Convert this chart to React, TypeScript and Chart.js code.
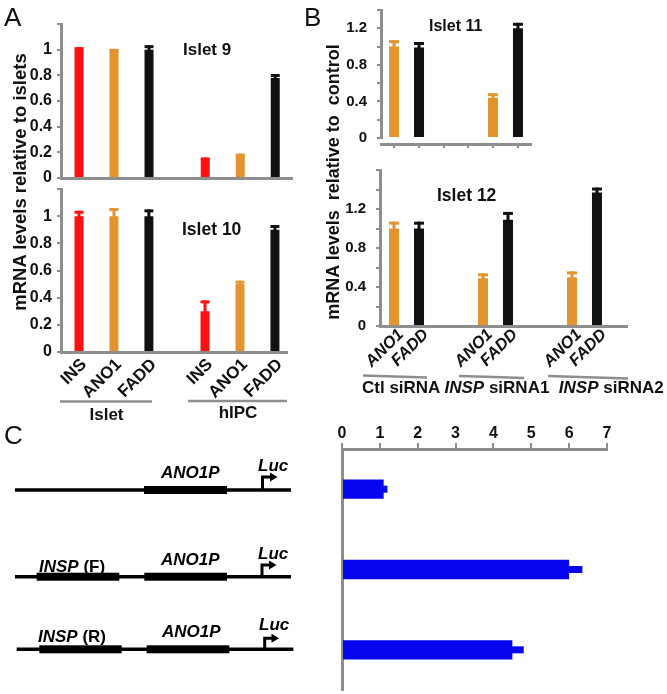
import React, { useEffect, useRef } from 'react';
import { Chart, registerables } from 'chart.js';

Chart.register(...registerables);

const FONT = '"Liberation Sans", Arial, Helvetica, sans-serif';
const AXIS_GRAY = '#8e8e8e';
const TEXT = '#111111';
const RED = '#ff1010';
const ORANGE = '#e2952f';
const BLACK = '#111111';
const BLUE = '#0505f0';

// ---------- Panel A data ----------
const groupsA = ['Islet', 'hIPC'];
const genesA = ['INS', 'ANO1', 'FADD'];
const islet9INS = [1.0, 0.15];
const islet9ANO1 = [1.0, 0.18];
const islet9FADD = [1.0, 0.78];
const islet9INSErr = [0.02, 0.01];
const islet9ANO1Err = [0.006, 0.01];
const islet9FADDErr = [0.035, 0.03];
const islet10INS = [1.0, 0.3];
const islet10ANO1 = [1.0, 0.5];
const islet10FADD = [1.0, 0.9];
const islet10INSErr = [0.04, 0.08];
const islet10ANO1Err = [0.06, 0.025];
const islet10FADDErr = [0.05, 0.035];
const yTicksA = [0, 0.2, 0.4, 0.6, 0.8, 1];

// ---------- Panel B data ----------
const groupsB = ['Ctl siRNA', 'INSP siRNA1', 'INSP siRNA2'];
const genesB = ['ANO1', 'FADD'];
const islet11ANO1 = [1.0, 0.44];
const islet11FADD = [0.99, 1.2];
const islet11ANO1Err = [0.07, 0.05];
const islet11FADDErr = [0.06, 0.06];
const islet12ANO1 = [1.0, 0.49, 0.5];
const islet12FADD = [1.0, 1.09, 1.37];
const islet12ANO1Err = [0.07, 0.05, 0.06];
const islet12FADDErr = [0.07, 0.08, 0.05];
const yTicksB = [0, 0.4, 0.8, 1.2];

// ---------- Panel C data ----------
const constructsC = ['ANO1P-Luc', 'INSP(F)-ANO1P-Luc', 'INSP(R)-ANO1P-Luc'];
const lucActivity = [1.1, 6.0, 4.5];
const lucErr = [0.1, 0.35, 0.3];
const xTicksC = [0, 1, 2, 3, 4, 5, 6, 7];

// ---------- plugins ----------
const errorBarPlugin = {
  id: 'errorBars',
  afterDatasetsDraw(chart: any) {
    const ctx = chart.ctx;
    const horizontal = chart.options.indexAxis === 'y';
    chart.data.datasets.forEach((ds: any, di: number) => {
      const errs: number[] | undefined = ds.errors;
      if (!errs) return;
      const meta = chart.getDatasetMeta(di);
      const vScale = chart.scales[horizontal ? meta.xAxisID : meta.yAxisID];
      ctx.save();
      ctx.fillStyle = ds.backgroundColor;
      meta.data.forEach((el: any, i: number) => {
        const parsed = meta.controller.getParsed(i);
        const v = horizontal ? parsed.x : parsed.y;
        const end = vScale.getPixelForValue(v + errs[i]);
        if (horizontal) {
          const t = 7;
          ctx.fillRect(el.x - 1, el.y - t / 2, end - el.x + 1, t);
        } else {
          const stem = 3;
          const capH = 3;
          const capW = el.width;
          ctx.fillRect(el.x - stem / 2, end, stem, el.y - end + 1);
          ctx.fillRect(el.x - capW / 2, end, capW, capH);
        }
      });
      ctx.restore();
    });
  },
};

const barLabelPlugin = {
  id: 'barLabels',
  afterDraw(chart: any, _args: any, opts: any) {
    if (!opts || !opts.show) return;
    const { ctx, chartArea } = chart;
    ctx.save();
    ctx.font = `${opts.italic ? 'italic ' : ''}bold ${opts.size}px ${FONT}`;
    ctx.fillStyle = TEXT;
    ctx.textAlign = 'right';
    ctx.textBaseline = 'middle';
    chart.data.datasets.forEach((ds: any, di: number) => {
      chart.getDatasetMeta(di).data.forEach((el: any) => {
        ctx.save();
        ctx.translate(el.x + opts.dx, chartArea.bottom + opts.dy);
        ctx.rotate(-Math.PI / 4);
        ctx.fillText(ds.label, 0, 0);
        ctx.restore();
      });
    });
    ctx.restore();
  },
};

type GroupedSpec = {
  groups: string[];
  names: string[];
  values: number[][];
  errors: number[][];
  colors: string[];
  yMax: number;
  yLabels: number[];
  yTickFont: number;
  yTickPad: number;
  yAxisWidth: number;
  xMin: number;
  xMax: number;
  catPct: number;
  barPct: number;
  xAxisHeight: number;
  padding: { top: number; right: number; bottom: number; left: number };
  xTickStep?: number;
  labels?: { dx: number; dy: number; size: number; italic: boolean };
};

function groupedConfig(s: GroupedSpec): any {
  const datasets = s.values.map((vals, k) => ({
    label: s.names[k],
    data: vals.map((v, i) => ({ x: i, y: v, group: s.groups[i] })),
    backgroundColor: s.colors[k],
    errors: s.errors[k],
    categoryPercentage: s.catPct,
    barPercentage: s.barPct,
    xAxisID: 'x',
    yAxisID: 'y',
  }));
  const scales: any = {
    x: {
      type: 'linear',
      min: s.xMin,
      max: s.xMax,
      offset: false,
      display: !s.xTickStep,
      ticks: { display: false, stepSize: 1, includeBounds: false },
      grid: { display: true, offset: false, drawOnChartArea: false, drawTicks: false },
      border: { display: true, color: AXIS_GRAY, width: 3 },
      afterFit: (sc: any) => {
        sc.height = s.xAxisHeight;
      },
    },
    y: {
      type: 'linear',
      min: 0,
      max: s.yMax,
      ticks: {
        stepSize: 0.2,
        autoSkip: false,
        font: { family: FONT, size: s.yTickFont, weight: 'bold' },
        color: TEXT,
        padding: s.yTickPad,
        callback: (v: any) =>
          s.yLabels.some((t) => Math.abs(t - Number(v)) < 1e-6) ? String(+Number(v).toFixed(1)) : '',
      },
      grid: { drawOnChartArea: false, drawTicks: true, tickLength: 4, color: AXIS_GRAY, lineWidth: 2 },
      border: { color: AXIS_GRAY, width: 3 },
      afterFit: (sc: any) => {
        sc.width = s.yAxisWidth;
      },
    },
  };
  if (s.xTickStep) {
    scales.xt = {
      type: 'linear',
      position: 'bottom',
      min: s.xMin,
      max: s.xMax,
      offset: false,
      ticks: { display: false, stepSize: s.xTickStep, includeBounds: false },
      grid: { display: true, drawOnChartArea: false, drawTicks: true, tickLength: 4, color: AXIS_GRAY, lineWidth: 2 },
      border: { display: true, color: AXIS_GRAY, width: 3 },
      afterFit: (sc: any) => {
        sc.height = s.xAxisHeight;
      },
    };
  }
  return {
    type: 'bar',
    data: { datasets },
    options: {
      animation: false,
      responsive: false,
      events: [],
      layout: { padding: s.padding },
      plugins: {
        legend: { display: false },
        tooltip: { enabled: false },
        barLabels: s.labels ? { show: true, ...s.labels } : { show: false },
      },
      scales,
    },
    plugins: [errorBarPlugin, barLabelPlugin],
  };
}

const configA1 = groupedConfig({
  groups: groupsA,
  names: genesA,
  values: [islet9INS, islet9ANO1, islet9FADD],
  errors: [islet9INSErr, islet9ANO1Err, islet9FADDErr],
  colors: [RED, ORANGE, BLACK],
  yMax: 1.2,
  yLabels: yTicksA,
  yTickFont: 16,
  yTickPad: 5,
  yAxisWidth: 61,
  xMin: -0.42,
  xMax: 1.41,
  catPct: 0.832,
  barPct: 0.257,
  xAxisHeight: 4,
  padding: { top: 24, right: 8, bottom: 20, left: 0 },
});

const configA2 = groupedConfig({
  groups: groupsA,
  names: genesA,
  values: [islet10INS, islet10ANO1, islet10FADD],
  errors: [islet10INSErr, islet10ANO1Err, islet10FADDErr],
  colors: [RED, ORANGE, BLACK],
  yMax: 1.2,
  yLabels: yTicksA,
  yTickFont: 16,
  yTickPad: 5,
  yAxisWidth: 61,
  xMin: -0.42,
  xMax: 1.373,
  catPct: 0.832,
  barPct: 0.257,
  xAxisHeight: 4,
  padding: { top: 24, right: 8, bottom: 60, left: 0 },
  labels: { dx: 5, dy: 10, size: 17, italic: false },
});

const configB1 = groupedConfig({
  groups: groupsB.slice(0, 2),
  names: genesB,
  values: [islet11ANO1, islet11FADD],
  errors: [islet11ANO1Err, islet11FADDErr],
  colors: [ORANGE, BLACK],
  yMax: 1.4,
  yLabels: yTicksB,
  yTickFont: 15,
  yTickPad: 10,
  yAxisWidth: 39,
  xMin: -0.258,
  xMax: 1.258,
  catPct: 0.505,
  barPct: 0.4,
  xAxisHeight: 6,
  padding: { top: 24, right: 8, bottom: 20, left: 0 },
  xTickStep: 0.25,
});

const configB2 = groupedConfig({
  groups: groupsB,
  names: genesB,
  values: [islet12ANO1, islet12FADD],
  errors: [islet12ANO1Err, islet12FADDErr],
  colors: [ORANGE, BLACK],
  yMax: 1.6,
  yLabels: yTicksB,
  yTickFont: 15,
  yTickPad: 10,
  yAxisWidth: 38,
  xMin: -0.298,
  xMax: 2.478,
  catPct: 0.562,
  barPct: 0.4,
  xAxisHeight: 4,
  padding: { top: 24, right: 10, bottom: 56, left: 0 },
  labels: { dx: 7, dy: 6, size: 16.5, italic: true },
});

const configC: any = {
  type: 'bar',
  data: {
    labels: constructsC,
    datasets: [
      {
        label: 'Relative luciferase activity',
        data: lucActivity,
        errors: lucErr,
        backgroundColor: BLUE,
        categoryPercentage: 0.8,
        barPercentage: 0.3,
      },
    ],
  },
  options: {
    indexAxis: 'y',
    animation: false,
    responsive: false,
    events: [],
    layout: { padding: { top: 4, right: 10, bottom: 3, left: 0 } },
    plugins: { legend: { display: false }, tooltip: { enabled: false } },
    scales: {
      x: {
        type: 'linear',
        position: 'top',
        min: xTicksC[0],
        max: xTicksC[xTicksC.length - 1],
        ticks: {
          stepSize: 1,
          autoSkip: false,
          font: { family: FONT, size: 16, weight: 'bold' },
          color: TEXT,
          padding: 0,
        },
        grid: { drawOnChartArea: false, drawTicks: true, tickLength: 6, color: AXIS_GRAY, lineWidth: 2 },
        border: { color: AXIS_GRAY, width: 3 },
        afterFit: (sc: any) => {
          sc.height = 30;
        },
      },
      y: {
        type: 'category',
        offset: true,
        ticks: { display: false },
        grid: { display: true, drawOnChartArea: false, drawTicks: false },
        border: { color: AXIS_GRAY, width: 3 },
        afterFit: (sc: any) => {
          sc.width = 14;
        },
      },
    },
  },
  plugins: [errorBarPlugin],
};

function ChartBox(props: { left: number; top: number; width: number; height: number; config: any }) {
  const ref = useRef<HTMLCanvasElement>(null);
  const { left, top, width, height, config } = props;
  useEffect(() => {
    const chart = new Chart(ref.current as HTMLCanvasElement, config);
    return () => chart.destroy();
  }, [config]);
  return (
    <div style={{ position: 'absolute', left, top, width, height }}>
      <canvas ref={ref} width={width} height={height} style={{ display: 'block', width, height }} />
    </div>
  );
}

function GroupLabel({ text }: { text: string }) {
  const parts = text.split('INSP');
  return (
    <>
      {parts.map((p, i) => (
        <React.Fragment key={i}>
          {i > 0 && <tspan fontStyle="italic">INSP</tspan>}
          {p}
        </React.Fragment>
      ))}
    </>
  );
}

export default function App() {
  const diagFont = { fontStyle: 'italic' as const };
  return (
    <div style={{ position: 'absolute', left: 0, top: 0, width: 667, height: 694, background: '#fff', overflow: 'hidden' }}>
      <ChartBox left={0} top={0} width={300} height={202} config={configA1} />
      <ChartBox left={0} top={165} width={295} height={251} config={configA2} />
      <ChartBox left={342} top={-14} width={197} height={184} config={configB1} />
      <ChartBox left={342} top={146} width={295} height={240} config={configB2} />
      <ChartBox left={328} top={415} width={289} height={278} config={configC} />
      <svg
        width={667}
        height={694}
        style={{ position: 'absolute', left: 0, top: 0, pointerEvents: 'none' }}
        fontFamily={FONT}
        fontWeight="bold"
        fill={TEXT}
      >
        {/* panel letters */}
        <text x={4} y={26} fontSize={26} fontWeight="normal">A</text>
        <text x={304} y={26} fontSize={26} fontWeight="normal">B</text>
        <text x={4} y={444} fontSize={26} fontWeight="normal">C</text>

        {/* axis titles */}
        <text transform="translate(26,182) rotate(-90)" textAnchor="middle" fontSize={18.5}>
          mRNA levels relative to islets
        </text>
        <text transform="translate(339,182) rotate(-90)" textAnchor="middle" fontSize={18} style={{ whiteSpace: 'pre' }}>
          {'mRNA levels  relative to  control'}
        </text>

        {/* panel titles */}
        <text x={183} y={55} fontSize={17}>Islet 9</text>
        <text x={182} y={235} fontSize={17.5}>Islet 10</text>
        <text x={429} y={31} fontSize={16}>Islet 11</text>
        <text x={437} y={201} fontSize={17.5}>Islet 12</text>

        {/* A group labels */}
        <line x1={60} y1={401.5} x2={152} y2={401.5} stroke={AXIS_GRAY} strokeWidth={2.5} />
        <line x1={188} y1={401} x2={287} y2={401} stroke={AXIS_GRAY} strokeWidth={2.5} />
        <text x={106.5} y={420} fontSize={17} textAnchor="middle">{groupsA[0]}</text>
        <text x={238} y={418} fontSize={17} textAnchor="middle">{groupsA[1]}</text>

        {/* B group labels */}
        <line x1={363} y1={375.5} x2={427} y2={377.5} stroke={AXIS_GRAY} strokeWidth={2.5} />
        <line x1={459} y1={376} x2={524} y2={378} stroke={AXIS_GRAY} strokeWidth={2.5} />
        <line x1={548} y1={376} x2={628} y2={378.5} stroke={AXIS_GRAY} strokeWidth={2.5} />
        <text x={362} y={393} fontSize={17} style={{ whiteSpace: 'pre' }}>
          <GroupLabel text={groupsB[0]} />
          {' '}
          <GroupLabel text={groupsB[1]} />
          {'  '}
          <GroupLabel text={groupsB[2]} />
        </text>

        {/* C construct diagrams */}
        <g stroke="#000" fill="none" strokeWidth={3.5}>
          <line x1={15} y1={490} x2={291} y2={490} />
          <line x1={15} y1={576.7} x2={291} y2={576.7} />
          <line x1={16.7} y1={649.3} x2={293.3} y2={649.3} />
          <path d="M262.5 490 V477 H271" strokeWidth={3} />
          <path d="M262 576.7 V565 H270" strokeWidth={3} />
          <path d="M264.7 649.3 V638.3 H272.5" strokeWidth={3} />
        </g>
        <g fill="#000">
          <rect x={144} y={486} width={83} height={8} />
          <rect x={36.7} y={572.7} width={82.6} height={8} />
          <rect x={144.3} y={572.7} width={82.7} height={8} />
          <rect x={39.3} y={645.3} width={82.4} height={8} />
          <rect x={146.7} y={645.3} width={82.6} height={8} />
          <polygon points="270,472.5 277.5,477 270,481.5" />
          <polygon points="269,560.5 276.5,565 269,569.5" />
          <polygon points="271.5,633.8 279,638.3 271.5,642.8" />
        </g>
        <g fontSize={17} fill="#000">
          <text x={161} y={478} style={diagFont}>ANO1P</text>
          <text x={258} y={470.5} style={diagFont}>Luc</text>
          <text x={39} y={571.5}>
            <tspan fontStyle="italic">INSP</tspan> (F)
          </text>
          <text x={161} y={565} style={diagFont}>ANO1P</text>
          <text x={258} y={558.5} style={diagFont}>Luc</text>
          <text x={38} y={641.5}>
            <tspan fontStyle="italic">INSP</tspan> (R)
          </text>
          <text x={162} y={636.5} style={diagFont}>ANO1P</text>
          <text x={259} y={629.5} style={diagFont}>Luc</text>
        </g>
      </svg>
    </div>
  );
}
